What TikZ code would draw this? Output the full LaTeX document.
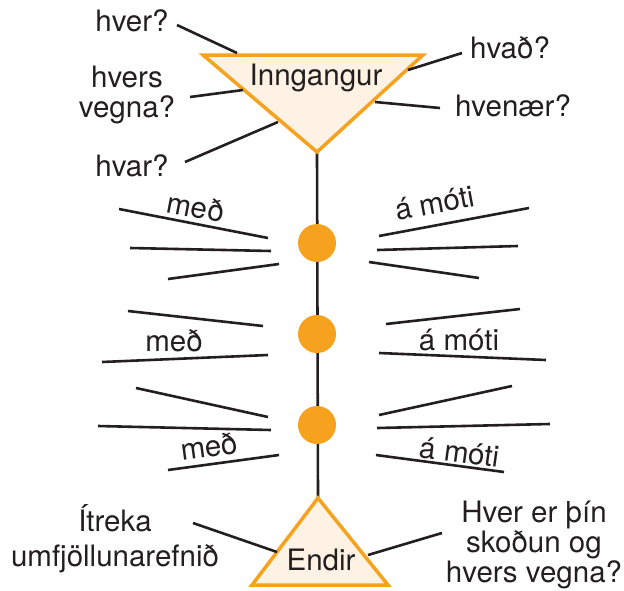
\documentclass[tikz,border=0pt]{standalone}
\usepackage{fontspec}
\setmainfont{TeX Gyre Heros}
\usepackage{xcolor}
\usepackage{tikz}
\usetikzlibrary{calc}
\definecolor{inkgray}{HTML}{231F20}
\definecolor{fishorange}{HTML}{F6A21E}
\definecolor{trifill}{HTML}{FDF2E3}
\tikzset{
    lbl/.style={font=\fontsize{29.5}{30}\selectfont, align=center, inner sep=0pt, text=inkgray},
    steplbl/.style={font=\fontsize{29.5}{30}\selectfont, inner sep=0pt, text=inkgray},
    bone/.style={line width=2.6pt, draw=inkgray},
    dot/.style={circle, fill=fishorange, minimum size=38pt, inner sep=0pt},
    tribox/.style={draw=fishorange, fill=trifill, line width=3.5pt, line join=miter},
}

\begin{document}
\begin{tikzpicture}[x=1pt, y=-1pt]
    \useasboundingbox (0,0) rectangle (624,590);

    % Triangles
    \coordinate (inA) at (203,55);
    \coordinate (inB) at (423,55);
    \coordinate (inC) at (317,152);
    \coordinate (enA) at (318,498);
    \coordinate (enB) at (252,585);
    \coordinate (enC) at (388,585);

    % Spine
    \draw[bone] (inC) -- (enA);

    \draw[tribox] (inA) -- (inB) -- (inC) -- cycle;
    \draw[tribox] (enA) -- (enB) -- (enC) -- cycle;
    \node[lbl] (intro) at (316,78) {Inngangur};
    \node[lbl] (outro) at (321,560) {Endir};

    % Questions around the introduction
    \node[lbl] (hver) at (132,21) {hver?};
    \node[lbl] (hversvegna) at (127,95) {hvers\\vegna?};
    \node[lbl] (hvar) at (132,166) {hvar?};
    \node[lbl] (hvad) at (510,48) {hvað?};
    \node[lbl] (hvenaer) at (513,106) {hvenær?};
    \draw[bone] (177,25) -- (237,53);
    \draw[bone] (190,97) -- (243,90);
    \draw[bone] (185,162) -- (278,122);
    \draw[bone] (408,70) -- (462,53);
    \draw[bone] (375,102) -- (440,108);

    % Ending
    \node[lbl, font=\fontsize{29.5}{35}\selectfont] (itreka) at (115,539) {Ítreka\\umfjöllunarefnið};
    \node[lbl] (skodun) at (534,545) {Hver er þín\\skoðun og\\hvers vegna?};
    \draw[bone] (193,523) -- (277,552);
    \draw[bone] (368,555) -- (442,533);

    % Points
    \node[dot] (p1) at (317,243) {};
    \node[dot] (p2) at (317,334) {};
    \node[dot] (p3) at (317,425) {};

    % First point
    \draw[bone] (119,209) -- (268,238);
    \draw[bone] (130,248) -- (271,251);
    \draw[bone] (168,279) -- (279,264);
    \draw[bone] (379,236) -- (529,208);
    \draw[bone] (377,250) -- (518,246);
    \draw[bone] (369,262) -- (479,278);
    \node[steplbl, rotate=-10.9] (med1) at (196,207) {með};
    \node[steplbl, rotate=10.7] (mot1) at (435,203) {á móti};

    % Second point
    \draw[bone] (128,311) -- (263,326);
    \draw[bone] (102,362) -- (268,355);
    \draw[bone] (386,324) -- (520,309);
    \draw[bone] (379,353) -- (546,360);
    \node[steplbl] (med2) at (174,341) {með};
    \node[steplbl] (mot2) at (459,340) {á móti};

    % Third point
    \draw[bone] (136,388) -- (268,417);
    \draw[bone] (98,426) -- (271,430);
    \draw[bone] (168,470) -- (279,455);
    \draw[bone] (379,415) -- (512,386);
    \draw[bone] (377,428) -- (550,424);
    \draw[bone] (376,455) -- (504,472);
    \node[steplbl, rotate=7.7] (med3) at (209,446) {með};
    \node[steplbl, rotate=-7.7] (mot3) at (460,452) {á móti};
\end{tikzpicture}
\end{document}
